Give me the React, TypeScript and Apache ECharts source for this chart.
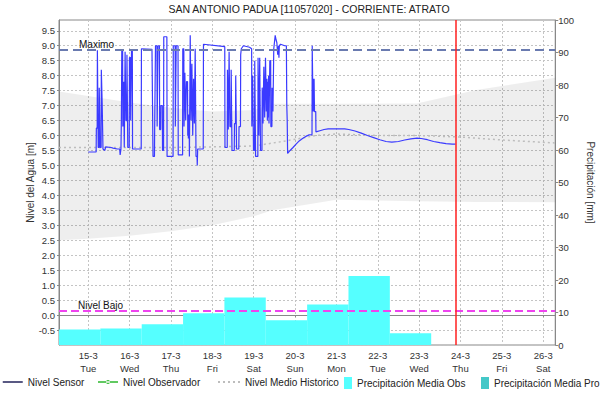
import React, { useEffect, useRef } from 'react';
import * as echarts from 'echarts';

const chartTitle = 'SAN ANTONIO PADUA [11057020] - CORRIENTE: ATRATO';
const weekdayNames = ['Sun', 'Mon', 'Tue', 'Wed', 'Thu', 'Fri', 'Sat'];

// x range in days of March 2016 (day + fraction)
const xStartDay = 14 + 7 / 24;
const xEndDay = 26 + 7 / 24;
const nowDay = 23.88;

const maximoLevel = 8.85;
const nivelBajoLevel = 0.13;

// Nivel Sensor: [day of March 2016, level m]
const sensorPoints: [number, number][] = [
  [15.0, 5.45], [15.19, 5.45], [15.195, 6.25], [15.215, 6.25], [15.22, 8.85], [15.235, 8.85], [15.24, 5.6], [15.26, 5.6],
  [15.265, 7.6], [15.28, 7.6], [15.285, 5.6], [15.31, 5.6], [15.315, 8.2], [15.33, 8.2], [15.335, 7.1], [15.35, 7.1],
  [15.355, 5.55], [15.4, 5.5], [15.42, 5.62], [15.55, 5.6], [15.6, 5.58], [15.7, 5.55], [15.76, 5.55], [15.77, 5.35], [15.79, 5.55],
  [15.8, 6.5], [15.81, 8.85], [15.83, 8.85], [15.835, 6.3], [15.85, 6.3], [15.855, 7.8], [15.865, 7.8], [15.87, 5.6], [15.885, 5.6],
  [15.89, 8.8], [15.905, 8.8], [15.91, 6.5], [15.93, 6.5], [15.935, 8.7], [15.95, 8.7], [15.955, 5.6], [15.99, 5.6],
  [15.995, 8.6], [16.02, 8.6], [16.025, 6.5], [16.04, 6.5], [16.045, 8.85], [16.065, 8.85], [16.07, 5.55], [16.28, 5.55],
  [16.285, 8.9], [16.54, 8.88],
  [16.545, 8.2], [16.56, 8.2], [16.565, 5.3], [16.6, 5.3], [16.605, 6.25], [16.62, 6.25], [16.625, 9.0], [16.66, 9.0],
  [16.665, 6.3], [16.68, 6.3], [16.685, 9.0], [16.72, 9.0], [16.725, 6.2], [16.75, 6.2], [16.755, 7.0], [16.79, 7.0],
  [16.795, 5.5], [16.82, 5.5], [16.825, 9.3], [16.9, 9.3], [16.905, 5.3], [17.05, 5.3],
  [17.055, 9.0], [17.1, 9.0], [17.105, 6.3], [17.12, 6.3], [17.125, 9.0], [17.17, 9.0], [17.175, 5.35], [17.28, 5.35],
  [17.285, 8.9], [17.31, 8.9], [17.315, 6.3], [17.33, 6.3], [17.335, 8.1], [17.35, 8.1], [17.355, 6.5], [17.37, 6.5],
  [17.375, 7.8], [17.4, 7.8], [17.405, 6.0], [17.41, 6.6], [17.42, 5.9], [17.43, 6.7], [17.44, 6.3], [17.445, 5.3], [17.46, 5.3],
  [17.465, 9.35], [17.48, 9.35], [17.485, 6.5], [17.5, 6.5], [17.505, 8.4], [17.52, 8.4], [17.525, 6.0], [17.54, 6.0],
  [17.545, 7.9], [17.56, 7.9], [17.565, 6.4], [17.58, 6.4], [17.585, 8.9], [17.6, 8.9], [17.605, 5.3], [17.63, 5.3],
  [17.635, 5.0], [17.645, 5.55], [17.78, 5.55],
  [17.785, 9.05], [18.3, 8.97],
  [18.305, 5.6], [18.36, 5.6], [18.365, 8.2], [18.38, 8.2], [18.385, 6.2], [18.4, 6.2], [18.405, 8.8], [18.42, 8.8],
  [18.425, 6.3], [18.45, 6.3], [18.455, 8.2], [18.47, 8.2], [18.475, 5.5], [18.53, 5.5], [18.535, 6.4], [18.56, 6.4],
  [18.565, 8.0], [18.58, 8.0], [18.585, 5.55], [18.64, 5.55], [18.645, 6.3], [18.68, 6.3],
  [18.685, 8.7], [18.7, 8.9], [18.75, 9.0], [18.9, 8.95], [18.95, 8.9],
  [18.955, 6.3], [18.97, 6.3], [18.975, 8.0], [18.99, 8.0], [18.995, 5.5], [19.02, 5.5], [19.025, 8.5], [19.04, 8.5],
  [19.045, 5.3], [19.1, 5.3], [19.105, 8.6], [19.12, 8.6], [19.125, 6.0], [19.14, 6.0], [19.145, 8.6], [19.16, 8.6],
  [19.165, 5.5], [19.2, 5.5], [19.205, 7.6], [19.22, 7.6], [19.225, 6.4], [19.24, 6.4], [19.245, 8.3], [19.26, 8.3],
  [19.265, 6.6], [19.28, 6.6], [19.285, 8.6], [19.3, 8.6], [19.305, 6.8], [19.32, 7.9], [19.33, 6.5], [19.34, 7.8],
  [19.35, 6.6], [19.36, 8.0], [19.37, 6.4], [19.385, 6.4], [19.39, 8.5], [19.41, 8.5], [19.415, 6.3], [19.44, 6.3],
  [19.445, 7.6], [19.46, 7.6], [19.465, 6.8], [19.48, 6.8],
  [19.485, 8.9], [19.52, 9.35], [19.54, 9.2], [19.56, 9.1], [19.58, 8.7], [19.6, 9.0], [19.61, 8.6], [19.62, 9.0],
  [19.65, 9.05], [19.75, 9.0], [19.79, 9.0], [19.8, 7.0], [19.81, 6.5], [19.82, 5.4],
  [19.88, 5.5], [19.95, 5.6], [20.03, 5.72], [20.1, 5.82], [20.18, 5.9], [20.26, 5.97], [20.34, 6.02], [20.41, 6.03],
  [20.415, 9.0], [20.425, 7.9], [20.43, 6.8], [20.44, 7.9], [20.445, 6.8], [20.46, 7.9], [20.47, 6.8], [20.5, 6.8],
  [20.505, 6.12], [20.6, 6.16], [20.7, 6.2], [20.8, 6.22], [21.0, 6.22], [21.2, 6.22], [21.3, 6.2], [21.45, 6.15],
  [21.6, 6.08], [21.75, 6.0], [21.9, 5.93], [22.05, 5.86], [22.2, 5.8], [22.34, 5.78], [22.5, 5.8], [22.65, 5.85],
  [22.8, 5.89], [22.95, 5.91], [23.05, 5.9], [23.2, 5.86], [23.35, 5.8], [23.5, 5.76], [23.65, 5.73], [23.8, 5.71], [23.88, 5.71],
];

// historic band and mean
const bandDays = [14.2917, 15, 16, 17, 18, 19, 19.45, 21, 22.94, 24.38, 26.2917];
const bandTop = [7.47, 7.32, 7.1, 6.93, 6.8, 6.85, 7.06, 7.06, 7.07, 7.52, 7.93];
const bandBottom = [2.5, 2.55, 2.65, 2.8, 3.0, 3.3, 3.5, 3.85, 3.8, 3.78, 3.77];
const meanDays = [14.2917, 15, 16, 17, 18, 19, 19.7, 20.5, 21, 22, 23, 24, 25, 26.2917];
const meanLevels = [5.6, 5.6, 5.6, 5.6, 5.62, 5.65, 5.8, 6.0, 6.05, 6.0, 6.0, 5.95, 5.85, 5.75];

// daily precipitation (07:00 to 07:00)
const precipStartDays = [14.2917, 15.2917, 16.2917, 17.2917, 18.2917, 19.2917, 20.2917, 21.2917, 22.2917];
const precipEndDays = [15.2917, 16.2917, 17.2917, 18.2917, 19.2917, 20.2917, 21.2917, 22.2917, 23.2917];
const precipObsMm = [4.8, 5.1, 6.4, 9.75, 14.6, 7.6, 12.5, 21.2, 3.6];

const toTime = (d: number) => {
  const day = Math.floor(d);
  return new Date(2016, 2, day).getTime() + (d - day) * 86400000;
};

const FONT = '"Liberation Sans", Arial, sans-serif';
const legendText = { fontSize: 10, color: '#222', fontFamily: FONT };
const observerIcon = 'path://M0,5.25H20V6.75H0Z M8,6A2,2 0 1 0 12,6A2,2 0 1 0 8,6Z';

export default function App() {
  const ref = useRef<HTMLDivElement>(null);
  useEffect(() => {
    if (!ref.current) return;
    const chart = echarts.init(ref.current, undefined, { renderer: 'svg' });
    const precipData = precipObsMm.map((v, i) => [toTime(precipStartDays[i]), toTime(precipEndDays[i]), v]);
    const renderBar = (params: any, api: any) => {
      const p0 = api.coord([api.value(0), api.value(2)]);
      const p1 = api.coord([api.value(1), 0]);
      return {
        type: 'rect',
        shape: { x: p0[0], y: p0[1], width: p1[0] - p0[0], height: p1[1] - p0[1] },
        style: { fill: api.visual('color') },
      };
    };
    const option: any = {
      animation: false,
      backgroundColor: '#ffffff',
      textStyle: { fontFamily: FONT },
      title: {
        text: chartTitle,
        left: 309,
        textAlign: 'center',
        top: 3,
        padding: 0,
        textStyle: { fontSize: 10.5, fontWeight: 'normal', color: '#222', fontFamily: FONT },
      },
      grid: { left: 59, right: 44, top: 20, bottom: 55, show: true, borderColor: '#888', borderWidth: 1, backgroundColor: 'transparent' },
      xAxis: {
        type: 'time',
        min: toTime(xStartDay),
        max: toTime(xEndDay),
        minInterval: 86400000,
        maxInterval: 86400000,
        splitNumber: 12,
        axisLine: { lineStyle: { color: '#888' } },
        axisTick: { show: true, length: 2, lineStyle: { color: '#888' } },
        axisLabel: {
          showMinLabel: false,
          showMaxLabel: false,
          hideOverlap: false,
          fontSize: 9.5,
          lineHeight: 13,
          margin: 4,
          color: '#333',
          fontFamily: FONT,
          formatter: (v: number) => {
            const dt = new Date(v);
            return `${dt.getDate()}-${dt.getMonth() + 1}\n${weekdayNames[dt.getDay()]}`;
          },
        },
        splitLine: { show: true, lineStyle: { color: '#c4c4c4', type: [2, 2], width: 1 } },
      },
      yAxis: [
        {
          type: 'value',
          min: -1,
          max: 9.86,
          interval: 0.5,
          name: 'Nivel del Agua [m]',
          nameLocation: 'middle',
          nameRotate: 90,
          nameGap: 24,
          nameMoveOverlap: false,
          nameTextStyle: { fontSize: 10, color: '#333', fontFamily: FONT },
          axisLine: { show: true, lineStyle: { color: '#888' } },
          axisTick: { show: true, length: 2, lineStyle: { color: '#888' } },
          axisLabel: {
            showMinLabel: false,
            showMaxLabel: false,
            fontSize: 9.5,
            margin: 4,
            color: '#333',
            fontFamily: FONT,
            formatter: (v: number) => (Math.abs(v * 2 - Math.round(v * 2)) < 1e-6 ? v.toFixed(1) : ''),
          },
          splitLine: { show: true, lineStyle: { color: '#c4c4c4', type: [2, 2], width: 1 } },
        },
        {
          type: 'value',
          min: 0,
          max: 100,
          interval: 10,
          position: 'right',
          name: 'Precipitación [mm]',
          nameLocation: 'middle',
          nameRotate: -90,
          nameGap: 27,
          nameTextStyle: { fontSize: 10, color: '#333', fontFamily: FONT },
          axisLine: { show: true, lineStyle: { color: '#888' } },
          axisTick: { show: true, length: 3, lineStyle: { color: '#888' } },
          axisLabel: { fontSize: 9.5, margin: 3, color: '#333', fontFamily: FONT },
          splitLine: { show: false },
        },
      ],
      legend: [
        {
          data: [{ name: 'Nivel Sensor', itemStyle: { opacity: 0 }, lineStyle: { color: '#22225a', width: 1.5 } }],
          left: 2, top: 377, padding: 0, itemWidth: 20, itemHeight: 12, selectedMode: false,
          textStyle: legendText,
        },
        {
          data: [{ name: 'Nivel Observador', icon: observerIcon }],
          left: 98, top: 377, padding: 0, itemWidth: 20, itemHeight: 12, selectedMode: false,
          textStyle: legendText,
        },
        {
          data: [{ name: 'Nivel Medio Historico', itemStyle: { opacity: 0 } }],
          left: 217, top: 377, padding: 0, itemWidth: 22, itemHeight: 12, selectedMode: false,
          textStyle: legendText,
        },
        {
          data: [{ name: 'Precipitación Media Obs', icon: 'rect' }],
          left: 344, top: 377, padding: 0, itemWidth: 8, itemHeight: 12, selectedMode: false,
          textStyle: legendText,
        },
        {
          data: [{ name: 'Precipitación Media Pro', icon: 'rect' }],
          left: 481, top: 377, padding: 0, itemWidth: 8, itemHeight: 12, selectedMode: false,
          textStyle: legendText,
        },
      ],
      series: [
        {
          type: 'line',
          stack: 'band',
          silent: true,
          symbol: 'none',
          lineStyle: { opacity: 0 },
          data: bandDays.map((d, i) => [toTime(d), bandBottom[i]]),
          z: 1,
        },
        {
          type: 'line',
          stack: 'band',
          silent: true,
          symbol: 'none',
          lineStyle: { opacity: 0 },
          areaStyle: { color: 'rgba(0,0,0,0.065)', opacity: 1 },
          data: bandDays.map((d, i) => [toTime(d), bandTop[i] - bandBottom[i]]),
          z: 1,
        },
        {
          name: 'Precipitación Media Obs',
          type: 'custom',
          yAxisIndex: 1,
          color: '#55ffff',
          itemStyle: { color: '#55ffff' },
          renderItem: renderBar,
          encode: { x: [0, 1], y: 2 },
          data: precipData,
          clip: true,
          z: 2,
        },
        {
          name: 'Precipitación Media Pro',
          type: 'custom',
          yAxisIndex: 1,
          color: '#44c8c8',
          itemStyle: { color: '#44c8c8' },
          renderItem: renderBar,
          encode: { x: [0, 1], y: 2 },
          data: [],
          z: 2,
        },
        {
          name: 'Nivel Medio Historico',
          type: 'line',
          symbol: 'none',
          color: '#bdbdbd',
          lineStyle: { color: '#bdbdbd', width: 1.5, type: [2, 3] },
          data: meanDays.map((d, i) => [toTime(d), meanLevels[i]]),
          z: 3,
          markLine: {
            silent: true,
            symbol: ['none', 'none'],
            lineStyle: { color: '#ff2020', width: 1.5, type: 'solid', opacity: 1 },
            label: { show: false },
            data: [{ xAxis: toTime(nowDay) }],
            z: 6,
          },
        },
        {
          name: 'Nivel Observador',
          type: 'line',
          symbol: 'circle',
          symbolSize: 4,
          color: '#2eb82e',
          lineStyle: { color: '#2eb82e', width: 1.5 },
          data: [],
          z: 3,
        },
        {
          name: 'Nivel Sensor',
          type: 'line',
          symbol: 'none',
          color: '#3a3aff',
          lineStyle: { color: '#3a3aff', width: 1.2 },
          data: sensorPoints.map(([d, v]) => [toTime(d), v]),
          z: 4,
          markLine: {
            silent: true,
            symbol: ['none', 'none'],
            data: [
              {
                yAxis: maximoLevel,
                lineStyle: { color: '#6a7bb0', width: 2, type: [9, 5] },
                label: { show: true, formatter: 'Maximo', position: 'insideStartTop', distance: [20, 1], color: '#111', fontSize: 10, fontFamily: FONT },
              },
              {
                yAxis: nivelBajoLevel,
                lineStyle: { color: '#ee44ee', width: 2, type: [8, 4] },
                label: { show: true, formatter: 'Nivel Bajo', position: 'insideStartTop', distance: [19, 1], color: '#111', fontSize: 10, fontFamily: FONT },
              },
            ],
          },
        },
      ],
    };
    chart.setOption(option);
    return () => chart.dispose();
  }, []);
  return <div ref={ref} style={{ position: 'fixed', left: 0, top: 0, width: 603, height: 400, background: '#fff' }} />;
}
